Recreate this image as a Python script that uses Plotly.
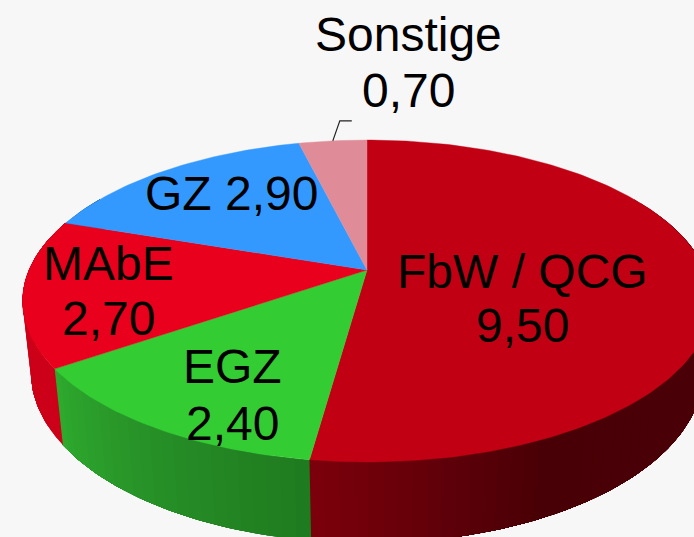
import math
import plotly.graph_objects as go

categories = ["FbW / QCG", "EGZ", "MAbE", "GZ", "Sonstige"]
values = [9.50, 2.40, 2.70, 2.90, 0.70]
value_labels = ["9,50", "2,40", "2,70", "2,90", "0,70"]

top_colors = ["#c20014", "#33cc33", "#e8001c", "#3399ff", "#e08c98"]
# wall shading: (fraction along the wedge, rgb)
wall_stops = [
    [(0.0, (82, 0, 10)), (0.82, (72, 0, 6)), (1.0, (124, 0, 12))],
    [(0.0, (31, 122, 31)), (0.6, (40, 148, 40)), (1.0, (46, 170, 46))],
    [(0.0, (204, 0, 24)), (1.0, (204, 0, 24))],
    [(0.0, (30, 90, 160)), (1.0, (30, 90, 160))],
    [(0.0, (170, 100, 110)), (1.0, (170, 100, 110))],
]

# Pie projection (view geometry)
CX, CY = 367.0, 270.0
A, B, K = 338.0, 155.0, 0.1926
DROP_W, DROP_Y = 0.024, 72.0


def project(theta_deg, lower=False):
    t = math.radians(theta_deg)
    u, v = math.sin(t), math.cos(t)
    w = 1 + K * v + (DROP_W if lower else 0.0)
    return CX + A * u / w, CY + (-B * v + (DROP_Y if lower else 0.0)) / w


def mix(stops, f):
    for (f0, c0), (f1, c1) in zip(stops, stops[1:]):
        if f <= f1:
            s = (f - f0) / (f1 - f0)
            return "rgb(%d,%d,%d)" % tuple(round(a + (b - a) * s) for a, b in zip(c0, c1))
    return "rgb(%d,%d,%d)" % stops[-1][1]


total = sum(values)
starts, ends, acc = [], [], 0.0
for val in values:
    starts.append(acc / total * 360)
    acc += val
    ends.append(acc / total * 360)

fig = go.Figure()


def polygon(points, color, width=0.0):
    fig.add_trace(go.Scatter(
        x=[p[0] for p in points] + [points[0][0]],
        y=[p[1] for p in points] + [points[0][1]],
        mode="lines", fill="toself", fillcolor=color,
        line=dict(color=color, width=width),
        hoverinfo="skip", showlegend=False,
    ))


# Walls: only the front half is visible; each strip runs on under the next one
for i, (s, e) in enumerate(zip(starts, ends)):
    lo, hi = max(s, 60.0), min(e, 300.0)
    if hi <= lo:
        continue
    n = max(2, int((hi - lo) / 2.0))
    for j in range(n):
        a0 = lo + (hi - lo) * j / n
        a1 = lo + (hi - lo) * (j + 1) / n
        col = mix(wall_stops[i], (((a0 + a1) / 2) - s) / (e - s))
        steps = max(2, int((hi - a0) / 1.0))
        arc = [a0 + (hi - a0) * q / steps for q in range(steps + 1)]
        pts = [project(a) for a in arc] + [project(a, True) for a in reversed(arc)]
        polygon(pts, col)

# Top wedges
for i, (s, e) in enumerate(zip(starts, ends)):
    n = max(2, int((e - s) / 1.0))
    rim = [project(s + (e - s) * j / n) for j in range(n + 1)]
    polygon([(CX, CY)] + rim, top_colors[i], 0.4)

# Leader line of the smallest wedge
mid = (starts[4] + ends[4]) / 2
lx, ly = project(mid)
fig.add_trace(go.Scatter(
    x=[lx, lx + 7, lx + 19], y=[ly, ly - 20, ly - 20], mode="lines",
    line=dict(color="#222222", width=1.2), hoverinfo="skip", showlegend=False,
))

# Label placement: (centre x, y of name line, y of value line)
label_pos = [(522, 271, 325), (232, 366, 423), (108, 263, 318), (231, 193, 193), (408, 34, 90)]
FONT = dict(family="Liberation Sans, Arial, sans-serif", size=48, color="#000000")
annotations = []
for i, (cat, vl) in enumerate(zip(categories, value_labels)):
    x, y1, y2 = label_pos[i]
    lines = [(cat + " " + vl, y1)] if y1 == y2 else [(cat, y1), (vl, y2)]
    for text, y in lines:
        annotations.append(dict(x=x, y=y, text=text, showarrow=False, xanchor="center",
                                yanchor="middle", font=FONT, xref="x", yref="y"))

fig.update_layout(
    width=694, height=537, autosize=False,
    margin=dict(l=0, r=0, t=0, b=0, pad=0),
    paper_bgcolor="#f7f7f7", plot_bgcolor="#f7f7f7",
    xaxis=dict(range=[0, 694], visible=False, fixedrange=True),
    yaxis=dict(range=[537, 0], visible=False, fixedrange=True),
    annotations=annotations, showlegend=False,
)
fig.write_html("out.html", config={"displayModeBar": False},
               post_script="document.body.style.margin='0';document.body.style.background='#f7f7f7';")
